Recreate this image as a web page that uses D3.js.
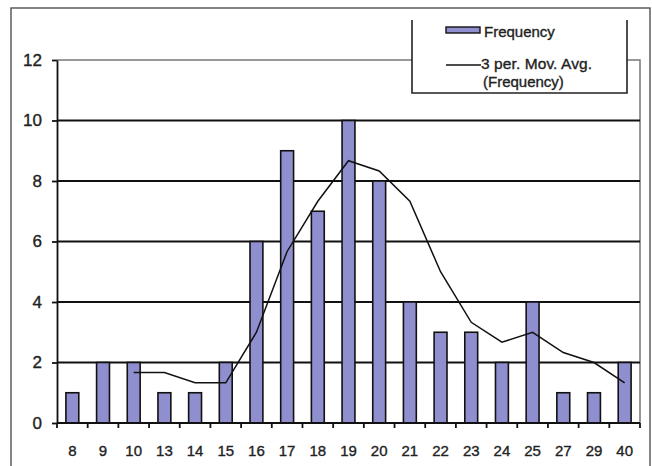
<!DOCTYPE html>
<html>
<head>
<meta charset="utf-8">
<script src="https://cdn.jsdelivr.net/npm/d3@7"></script>
<style>
  body { margin: 0; background: #fff; }
  svg { display: block; font-family: "Liberation Sans", Arial, sans-serif; }
  text { fill: #222; stroke: #222; stroke-width: 0.35px; }
</style>
</head>
<body>
<svg id="chart" width="652" height="466"></svg>
<script>
const width = 652;
const height = 466;

// categories on the x axis
const categories = ["8", "9", "10", "13", "14", "15", "16", "17", "18", "19",
                    "20", "21", "22", "23", "24", "25", "27", "29", "40"];
// bar heights
const frequency = [1, 2, 2, 1, 1, 2, 6, 9, 7, 10, 8, 4, 3, 3, 2, 4, 1, 1, 2];
// 3 period moving average, starts at the third category
const movAvg = [null, null, 1.67, 1.67, 1.33, 1.33, 3, 5.67, 7.33, 8.67,
                8.33, 7.33, 5, 3.33, 2.67, 3, 2.33, 2, 1.33];
const yTicks = [0, 2, 4, 6, 8, 10, 12];

const margin = {top: 60, right: 12, bottom: 43, left: 57};
const plotW = 640 - margin.left;
const plotH = 423 - margin.top;

const svg = d3.select("#chart");

// outer frame
svg.append("rect")
    .attr("x", 11).attr("y", 8)
    .attr("width", 639).attr("height", 470)
    .attr("fill", "none")
    .attr("stroke", "#444")
    .attr("stroke-width", 1.3);

const g = svg.append("g")
    .attr("transform", `translate(${margin.left},${margin.top})`);

const x = d3.scaleBand()
    .domain(categories)
    .range([0, plotW])
    .padding(0);

const y = d3.scaleLinear()
    .domain([0, 12])
    .range([plotH, 0]);

// plot area border (top & right, grey)
g.append("path")
    .attr("d", `M0,0H${plotW}V${plotH}`)
    .attr("fill", "none")
    .attr("stroke", "#777")
    .attr("stroke-width", 1.5);

// gridlines
g.selectAll(".grid")
    .data(yTicks.filter(d => d > 0 && d < 12))
    .enter()
    .append("line")
    .attr("x1", 0)
    .attr("x2", plotW)
    .attr("y1", d => y(d))
    .attr("y2", d => y(d))
    .attr("stroke", "#111")
    .attr("stroke-width", 1.8);

// bars
const barW = x.bandwidth() * 0.42;
g.selectAll(".bar")
    .data(frequency)
    .enter()
    .append("rect")
    .attr("x", (d, i) => x(categories[i]) + (x.bandwidth() - barW) / 2)
    .attr("y", d => y(d))
    .attr("width", barW)
    .attr("height", d => plotH - y(d))
    .attr("fill", "#8f8fcf")
    .attr("stroke", "#111")
    .attr("stroke-width", 1.6);

// moving average line
const line = d3.line()
    .defined(d => d != null)
    .x((d, i) => x(categories[i]) + x.bandwidth() / 2)
    .y(d => y(d));

g.append("path")
    .datum(movAvg)
    .attr("d", line)
    .attr("fill", "none")
    .attr("stroke", "#111")
    .attr("stroke-width", 1.5);

// y axis
const yAxis = g.append("g")
    .call(d3.axisLeft(y).tickValues(yTicks).tickSize(5).tickSizeOuter(0));
yAxis.select(".domain").attr("stroke", "#111").attr("stroke-width", 1.8);
yAxis.selectAll(".tick line").attr("stroke", "#111").attr("stroke-width", 1.8);
yAxis.selectAll(".tick text")
    .attr("x", -15)
    .attr("font-size", "17px");

// x axis: ticks between categories
const xAxisG = g.append("g")
    .attr("transform", `translate(0,${plotH})`);
xAxisG.append("line")
    .attr("x1", 0).attr("x2", plotW)
    .attr("stroke", "#111").attr("stroke-width", 1.8);
xAxisG.selectAll(".xtick")
    .data(categories.map((c, i) => i).concat(categories.length))
    .enter()
    .append("line")
    .attr("x1", i => i * x.step())
    .attr("x2", i => i * x.step())
    .attr("y1", 0).attr("y2", 5)
    .attr("stroke", "#111").attr("stroke-width", 1.8);
xAxisG.selectAll(".xlabel")
    .data(categories)
    .enter()
    .append("text")
    .attr("x", d => x(d) + x.bandwidth() / 2)
    .attr("y", 33)
    .attr("text-anchor", "middle")
    .attr("font-size", "15px")
    .text(d => d);

// legend
const legend = svg.append("g");
legend.append("path")
    .attr("d", "M412,20V93H627V20")
    .attr("fill", "#fff")
    .attr("stroke", "#222")
    .attr("stroke-width", 1.6);
legend.append("rect")
    .attr("x", 446).attr("y", 27)
    .attr("width", 34).attr("height", 6)
    .attr("fill", "#8f8fcf")
    .attr("stroke", "#111")
    .attr("stroke-width", 1.4);
legend.append("text")
    .attr("x", 484).attr("y", 37)
    .attr("font-size", "15px")
    .text("Frequency");
legend.append("line")
    .attr("x1", 446).attr("x2", 481)
    .attr("y1", 65).attr("y2", 65)
    .attr("stroke", "#111").attr("stroke-width", 1.5);
legend.append("text")
    .attr("x", 481).attr("y", 69)
    .attr("font-size", "15.5px")
    .attr("textLength", 111)
    .text("3 per. Mov. Avg.");
legend.append("text")
    .attr("x", 483).attr("y", 87)
    .attr("font-size", "15px")
    .text("(Frequency)");
</script>
</body>
</html>
